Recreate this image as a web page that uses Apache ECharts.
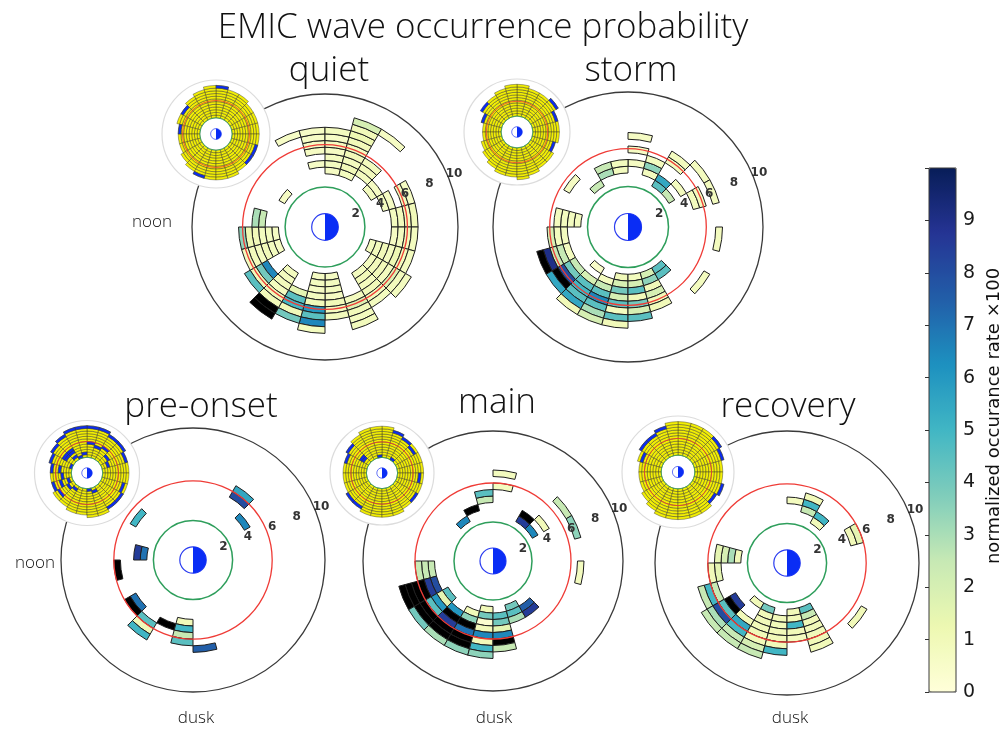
<!DOCTYPE html>
<html>
<head>
<meta charset="utf-8">
<script src="https://cdn.jsdelivr.net/npm/echarts@6.0.0/dist/echarts.min.js"></script>
<style>
html,body{margin:0;padding:0;background:#ffffff;}
#chart{width:1007px;height:730px;}
</style>
</head>
<body>
<div id="chart"></div>
<script>
// ================= DATA =================
const chartTitle = 'EMIC wave occurrence probability';
const panelNames = ['quiet', 'storm', 'pre-onset', 'main', 'recovery'];
const sideLabel = 'noon';
const bottomLabel = 'dusk';
const radialTicks = [2, 4, 6, 8, 10];
const colorbarTicks = [0, 1, 2, 3, 4, 5, 6, 7, 8, 9];
const colorbarMin = 0, colorbarMax = 10;
const colorbarTitle = 'normalized occurance rate \u00d7100';
const innerRingL = 3;                          // green ring
const plasmapauseL = [6.2, 5.8, 6.0, 6.0, 6.0];  // red ring per panel
const earthL = 1;
const binL = 0.5, binMLT = 1;
const insetInnerL = 3;

// cells: [L inner edge, MLT bin start (h), normalized occurrence rate x100]; values > 10 are saturated (black)
const quietCells = [
  [7.0,7,0.6],
  [4.5,6,0.6],[5.5,6,0.7],[6.0,6,0.7],[6.5,6,0.6],[7.0,6,0.6],
  [4.0,5,0.7],[4.5,5,0.8],[5.0,5,0.8],[5.5,5,0.7],[6.0,5,0.8],[6.5,5,0.6],[7.0,5,0.8],
  [4.0,4,0.8],[4.5,4,1.0],[5.0,4,0.8],[5.5,4,1.0],[6.0,4,0.8],[6.5,4,1.0],[7.0,4,1.2],[7.5,4,1.0],[8.0,4,2.0],
  [4.5,3,0.8],[5.0,3,0.9],[5.5,3,0.8],[8.0,3,0.7],
  [4.0,2,0.8],[4.5,2,0.7],
  [4.5,1,0.8],[5.0,1,0.7],[6.0,1,0.9],[6.5,1,0.7],
  [5.0,0,0.8],[5.5,0,0.9],[6.0,0,0.8],[6.5,0,1.0],
  [5.0,23,0.7],[5.5,23,0.8],[6.0,23,0.9],[6.5,23,0.8],
  [3.5,22,0.8],[4.0,22,0.9],[4.5,22,1.0],[5.0,22,0.8],[5.5,22,1.2],[6.0,22,0.9],[6.5,22,0.8],
  [4.0,21,0.8],[4.5,21,0.9],[5.0,21,1.0],[5.5,21,0.8],[6.0,21,1.8],[6.5,21,0.9],[7.0,21,0.8],
  [4.0,20,0.8],[4.5,20,1.0],[5.0,20,0.8],[5.5,20,1.0],[6.0,20,0.9],[6.5,20,0.8],
  [5.5,19,0.8],[6.0,19,1.8],[6.5,19,1.0],[7.0,19,0.8],[7.5,19,0.9],
  [3.5,18,0.7],[4.0,18,0.8],[4.5,18,0.8],[5.0,18,0.7],[5.5,18,1.0],[6.0,18,0.8],[6.5,18,0.9],
  [3.5,17,0.7],[4.0,17,0.8],[4.5,17,0.7],[5.0,17,0.8],[5.5,17,1.0],[6.0,17,6.0],[6.5,17,4.5],[7.0,17,6.5],[7.5,17,0.8],
  [5.0,16,1.5],[5.5,16,4.5],[6.0,16,5.0],[6.5,16,1.0],[7.0,16,4.0],
  [4.0,15,0.8],[4.5,15,0.8],[5.0,15,0.9],[5.5,15,0.8],[6.0,15,1.0],[6.5,15,1.0],[7.0,15,12],[7.5,15,12],
  [5.0,14,6.5],[5.5,14,4.0],[6.0,14,1.0],[6.5,14,4.5],
  [3.5,13,0.7],[4.0,13,0.8],[4.5,13,1.0],[5.0,13,0.8],[5.5,13,0.9],[6.0,13,0.8],
  [3.5,12,0.7],[4.0,12,0.8],[4.5,12,0.8],[5.0,12,1.0],[5.5,12,1.2],[6.0,12,3.5],
  [4.5,11,2.5],[5.0,11,3.0],
  [3.5,9,0.7]
];
const stormCells = [
  [6.5,5,0.7],[5.5,5,0.7],[4.5,5,0.7],
  [4.0,6,0.8],[4.5,6,0.8],
  [4.0,7,3.0],[4.5,7,2.5],
  [3.5,8,2.5],
  [5.0,9,0.7],
  [4.0,4,0.8],[4.5,4,3.5],[5.0,4,0.8],
  [3.5,3,4.5],[4.0,3,5.5],[5.5,3,0.8],[6.0,3,0.8],
  [3.5,2,2.5],[4.5,2,0.8],[6.5,2,0.8],
  [5.0,1,0.8],[5.5,1,0.8],[6.5,1,0.8],
  [6.5,23,0.8],
  [6.5,21,0.8],
  [3.5,11,0.8],[4.0,11,0.8],[4.5,11,0.8],[5.0,11,0.8],
  [4.5,12,0.8],[5.0,12,0.8],[5.5,12,2.0],
  [4.5,13,0.8],[5.0,13,2.5],[5.5,13,2.5],[6.0,13,9.0],[6.5,13,12],
  [4.5,14,2.5],[5.0,14,4.0],[5.5,14,8.0],[6.0,14,12],[6.5,14,5.5],
  [3.5,15,0.5],[4.5,15,2.0],[5.0,15,4.5],[5.5,15,5.0],[6.0,15,4.5],[6.5,15,5.5],[7.0,15,1.0],
  [4.0,16,0.8],[4.5,16,2.5],[5.0,16,4.5],[5.5,16,6.5],[6.0,16,4.5],[6.5,16,3.0],[7.0,16,2.0],
  [3.5,17,1.0],[4.0,17,2.0],[4.5,17,4.0],[5.0,17,2.0],[5.5,17,4.5],[6.0,17,0.8],[6.5,17,4.5],[7.0,17,1.0],
  [3.5,18,0.8],[4.0,18,2.0],[4.5,18,4.5],[5.0,18,1.0],[5.5,18,4.0],[6.0,18,2.0],[6.5,18,4.5],
  [3.5,19,2.0],[4.0,19,3.5],[4.5,19,1.0],[5.0,19,2.0],[5.5,19,1.0],[6.0,19,1.0],
  [3.5,20,4.5],[4.0,20,4.5]
];
const preOnsetCells = [
  [5.5,3,8.0],[6.0,3,5.5],
  [4.5,2,6.5],
  [5.0,9,5.0],
  [3.5,11,7.0],[4.0,11,8.5],
  [5.5,12,12],
  [5.0,14,7.0],[5.5,14,12],
  [5.5,15,4.5],[6.0,15,1.0],[6.5,15,5.0],
  [5.0,16,12],
  [4.5,17,1.0],[5.0,17,5.0],[5.5,17,2.5],[6.0,17,4.5],
  [6.5,18,7.5]
];
const mainCells = [
  [5.5,5,0.8],[6.5,5,0.8],
  [4.5,6,2.5],[5.0,6,4.5],
  [4.0,7,12],
  [3.5,8,6.5],
  [3.5,3,8.5],[4.0,3,12],
  [3.5,2,6.5],[4.5,2,1.0],[6.5,2,2.5],
  [6.5,1,3.5],
  [6.5,23,0.8],
  [4.5,12,2.5],[5.0,12,2.5],[5.5,12,2.5],
  [4.5,13,8.0],[5.0,13,8.5],[5.5,13,12],[6.0,13,12],[6.5,13,12],[7.0,13,12],
  [4.0,14,4.5],[4.5,14,1.5],[5.0,14,6.0],[5.5,14,4.5],[6.0,14,12],[6.5,14,12],[7.0,14,4.0],
  [4.5,15,6.0],[5.0,15,12],[5.5,15,8.5],[6.0,15,12],[6.5,15,12],[7.0,15,3.0],
  [4.0,16,1.0],[4.5,16,3.5],[5.0,16,12],[5.5,16,7.0],[6.0,16,12],[6.5,16,12],[7.0,16,3.5],
  [3.5,17,1.0],[4.0,17,4.0],[4.5,17,0.3],[5.0,17,1.0],[5.5,17,6.5],[6.0,17,1.0],[6.5,17,5.0],[7.0,17,3.5],
  [4.0,18,4.5],[4.5,18,4.0],[5.0,18,1.5],[5.5,18,6.5],[6.0,18,12],[6.5,18,2.5],
  [3.5,19,4.0],[4.0,19,4.5],[4.5,19,3.0],
  [4.0,20,7.5],[4.5,20,8.5]
];
const recoveryCells = [
  [4.5,5,0.8],
  [4.0,4,2.5],[4.5,4,5.0],[5.0,4,1.0],
  [3.5,3,1.0],[4.0,3,5.0],
  [5.0,1,1.0],[5.5,1,1.5],
  [6.5,21,1.0],
  [3.5,11,1.0],[4.0,11,3.0],[4.5,11,2.0],[5.0,11,1.5],
  [5.0,12,1.5],[5.5,12,1.0],
  [5.5,13,2.5],[6.0,13,5.0],[6.5,13,2.5],
  [4.5,14,8.5],[5.0,14,12],[5.5,14,4.5],[6.0,14,8.0],[6.5,14,3.0],[7.0,14,2.5],
  [3.5,15,1.0],[5.0,15,1.0],[5.5,15,5.5],[6.0,15,5.0],[6.5,15,2.5],[7.0,15,2.5],
  [3.5,16,4.0],[4.0,16,1.0],[4.5,16,1.0],[5.0,16,1.0],[5.5,16,1.0],[6.0,16,1.0],[6.5,16,2.0],[7.0,16,2.5],
  [4.0,17,1.0],[4.5,17,1.0],[5.0,17,1.0],[5.5,17,1.0],[6.0,17,1.0],[6.5,17,5.0],
  [3.5,18,1.0],[4.0,18,1.0],[4.5,18,5.0],[5.0,18,1.0],[5.5,18,0.8],
  [3.5,19,4.5],[4.0,19,2.5],[4.5,19,1.0],[5.0,19,1.0],[5.5,19,1.0],[6.0,19,1.0],[6.5,19,1.0]
];

// insets (sample coverage): outer L edge per MLT hour 0..23, and bins flagged blue [L, MLT]
const quietInsetOuter    = [8,8,8,8.5,8.5,9,9,8.5,8,7.5,7.5,7,7,7,7.5,8,8.5,8.5,8.5,8.5,8,8,8,8];
const quietInsetBlue     = [[8.5,5],[7.0,9],[6.5,11],[8.0,16],[7.5,22],[7.5,21]];
const stormInsetOuter    = [8,8,9,8.5,8.5,9,9,8.5,8,7.5,7,6.5,6.5,7,7.5,8,8.5,8.5,9,8.5,8,8,7.5,8];
const stormInsetBlue     = [[7.5,1],[8.5,2],[7.5,9],[6.5,10],[7.0,22]];
const preOnsetInsetOuter = [8,8,8.5,8.5,9,9,9,9,8.5,8,7.5,7,7,7,7.5,7.5,8,8,8.5,8.5,8,8,8,8];
const preOnsetInsetBlue  = [[8.5,4],[8.5,5],[8.5,6],[8.5,7],[8.0,8],[7.5,9],[7.0,10],[6.5,11],[8.0,2],[8.0,3],[7.5,1],
  [5.0,8],[4.5,8],[4.5,9],[5.0,9],[3.5,8],[3.0,7],[3.5,6],[5.5,5],[5.0,4],[5.5,3],[4.0,1],[4.5,2],[3.0,10],
  [5.0,11],[4.5,12],[3.5,13],[5.0,13],[6.5,13],[3.5,15],[3.0,18],[3.5,19],[7.5,20],[7.5,21],[7.0,22],[6.0,14],[4.0,14]];
const mainInsetOuter     = [8,8,8,8,8.5,9,9,9,8.5,8,7.5,7.5,7.5,7.5,8,8,8.5,8.5,8.5,8.5,8,8,8,8];
const mainInsetBlue      = [[7.0,2],[7.5,3],[8.0,4],[7.5,9],[7.0,10],[4.5,9],[4.0,9],[3.0,6],[3.0,3],[7.0,23],[7.5,21],[7.5,14],[7.5,15]];
const recoveryInsetOuter = [8,8.5,9,9,9,9,9,8.5,8,8,7.5,7,7,7,7.5,8,8.5,8.5,8.5,8.5,8.5,8,8.5,8];
const recoveryInsetBlue  = [[8.0,1],[8.5,2],[8.0,7],[7.5,8],[7.5,9],[6.5,10],[8.0,22],[7.5,21]];

// ================= LAYOUT / STYLE =================
const YlGnBu = ['#ffffd9','#edf8b1','#c7e9b4','#7fcdbb','#41b6c4','#1d91c0','#225ea8','#253494','#081d58'];
const panels = [
  {cells: quietCells,    c:[325,227], r:133, ic:[216,134], ir:54,   io: quietInsetOuter,    ib: quietInsetBlue},
  {cells: stormCells,    c:[628,227], r:135, ic:[517,132], ir:53,   io: stormInsetOuter,    ib: stormInsetBlue},
  {cells: preOnsetCells, c:[193,560], r:132, ic:[87,473],  ir:52.5, io: preOnsetInsetOuter, ib: preOnsetInsetBlue},
  {cells: mainCells,     c:[493,561], r:130, ic:[382,473], ir:52,   io: mainInsetOuter,     ib: mainInsetBlue},
  {cells: recoveryCells, c:[787,563], r:132, ic:[678,472], ir:56,   io: recoveryInsetOuter, ib: recoveryInsetBlue}
];
const titlePos = [
  [329, 71], [631, 71], [201, 407], [497, 403], [788, 407]
];
const noonPos = [[152, 222], [35, 563]];
const duskPos = [[196, 718], [494, 718], [790, 718]];
const lightFont = "'Open Sans', 'Lato', sans-serif";

function sectorShape(params, api, L0, L1, m0, m1) {
  const a = api.coord([L0, m0]);
  const b = api.coord([L1, m1]);
  return { cx: params.coordSys.cx, cy: params.coordSys.cy, r0: a[2], r: b[2],
           startAngle: -b[3], endAngle: -a[3], clockwise: true };
}
function ringSeries(polarIndex, L, color, width, z) {
  return { type:'custom', coordinateSystem:'polar', polarIndex, z, silent:true, data:[[L, 0]],
    renderItem: (params, api) => {
      const p = api.coord([api.value(0), 0]);
      return { type:'circle', shape:{cx:params.coordSys.cx, cy:params.coordSys.cy, r:p[2]},
               style:{fill:'none', stroke:color, lineWidth:width} };
    } };
}
function earthSeries(polarIndex, z, lw) {
  return { type:'custom', coordinateSystem:'polar', polarIndex, z, silent:true, data:[[earthL, 18]],
    renderItem: (params, api) => {
      const L = api.value(0), m = api.value(1);
      const p = api.coord([L, 0]);
      return { type:'group', children:[
        { type:'circle', shape:{cx:params.coordSys.cx, cy:params.coordSys.cy, r:p[2]},
          style:{fill:'#ffffff', stroke:'#2a3cf0', lineWidth:lw} },
        { type:'sector', shape: sectorShape(params, api, 0, L, m, m + 12), style:{fill:'#0a2df5'} }
      ]};
    } };
}

const polar = [], angleAxis = [], radiusAxis = [], series = [], cellSeriesIdx = [];
function addPolar(center, radius, showLine) {
  const idx = polar.length;
  polar.push({ center, radius });
  angleAxis.push({ polarIndex: idx, type:'value', min:0, max:24, startAngle:0, clockwise:false,
    axisLine:{show:showLine, lineStyle:{color:'#3a3a3a', width:1.3}},
    axisTick:{show:false}, axisLabel:{show:false}, splitLine:{show:false}, splitArea:{show:false} });
  radiusAxis.push({ polarIndex: idx, type:'value', min:0, max:10,
    axisLine:{show:false}, axisTick:{show:false}, axisLabel:{show:false}, splitLine:{show:false}, splitArea:{show:false} });
  return idx;
}

panels.forEach((p, i) => {
  const pi = addPolar(p.c, p.r, true);
  cellSeriesIdx.push(series.length);
  series.push({ type:'custom', coordinateSystem:'polar', polarIndex: pi, z:2, silent:true,
    data: p.cells, dimensions:['L','MLT','rate'], encode:{radius:0, angle:1},
    renderItem: (params, api) => ({ type:'sector',
      shape: sectorShape(params, api, api.value(0), api.value(0) + binL, api.value(1), api.value(1) + binMLT),
      style: { fill: api.visual('color'), stroke:'#1e1e1e', lineWidth:1 } }) });
  series.push(ringSeries(pi, innerRingL, '#2e9e5b', 1.5, 3));
  series.push(ringSeries(pi, plasmapauseL[i], '#ef3b36', 1.3, 3));
  series.push(earthSeries(pi, 3, 1.2));
  series.push({ type:'custom', coordinateSystem:'polar', polarIndex: pi, z:3, silent:true,
    data: radialTicks.map(v => [v, 1.5]),
    renderItem: (params, api) => {
      const q = api.coord([api.value(0) + 0.5, api.value(1)]);
      return { type:'text', x:q[0], y:q[1], style:{ text:String(api.value(0)), fill:'#333',
        font:'bold 12px "DejaVu Sans", sans-serif', align:'center', verticalAlign:'middle' } };
    } });
});

panels.forEach((p, i) => {
  const pi = addPolar(p.ic, p.ir, false);
  series.push({ type:'custom', coordinateSystem:'polar', polarIndex: pi, z:5, silent:true, data:[[10, 0]],
    renderItem: (params, api) => {
      const q = api.coord([api.value(0), 0]);
      return { type:'circle', shape:{cx:params.coordSys.cx, cy:params.coordSys.cy, r:q[2]},
               style:{fill:'#ffffff', stroke:'#dcdcdc', lineWidth:1.2} };
    } });
  const data = [];
  p.io.forEach((Lmax, m) => { for (let L = insetInnerL; L < Lmax - 1e-9; L += binL) data.push([L, m, 0]); });
  p.ib.forEach(b => data.push([b[0], b[1], 1]));
  series.push({ type:'custom', coordinateSystem:'polar', polarIndex: pi, z:6, silent:true, data,
    renderItem: (params, api) => ({ type:'sector',
      shape: sectorShape(params, api, api.value(0), api.value(0) + binL, api.value(1), api.value(1) + binMLT),
      style: { fill: api.value(2) ? '#0c2cf2' : '#f2ee05', stroke:'#3a3a2a', lineWidth:0.45 } }) });
  series.push(ringSeries(pi, innerRingL, '#2e9e5b', 0.8, 7));
  series.push(ringSeries(pi, plasmapauseL[i], '#ef3b36', 0.8, 7));
  series.push(earthSeries(pi, 7, 0.7));
});

const graphic = [];
function txt(x, y, text, font, extra) {
  graphic.push(Object.assign({ type:'text', x, y, silent:true, z:20,
    style:{ text, font, fill:'#111', align:'center', verticalAlign:'middle', textAlign:'center', textVerticalAlign:'middle' } }, extra || {}));
}
txt(483, 28, chartTitle, `300 35px ${lightFont}`);
panelNames.forEach((n, i) => txt(titlePos[i][0], titlePos[i][1], n, `300 35px ${lightFont}`));
noonPos.forEach(p => txt(p[0], p[1], sideLabel, `300 17px ${lightFont}`));
duskPos.forEach(p => txt(p[0], p[1], bottomLabel, `300 17px ${lightFont}`));
txt(994, 416, colorbarTitle, `18px "DejaVu Sans", sans-serif`, { rotation: Math.PI / 2 });

const option = {
  backgroundColor:'#ffffff',
  animation:false,
  polar, angleAxis, radiusAxis, series, graphic,
  grid:{ left:929, top:168, width:27, height:524, show:true, z:10, backgroundColor:'transparent', borderColor:'#3a3a3a', borderWidth:1 },
  xAxis:{ type:'value', show:false },
  yAxis:{ type:'value', position:'right', min:colorbarMin, max:colorbarMax, interval:1, z:10,
    axisLine:{show:false}, splitLine:{show:false},
    axisTick:{ show:true, inside:true, length:4, lineStyle:{color:'#333'} },
    axisLabel:{ margin:7, fontSize:19, color:'#1a1a1a', fontFamily:'"DejaVu Sans", sans-serif',
      formatter: v => colorbarTicks.indexOf(v) >= 0 ? String(v) : '' } },
  visualMap:{ type:'continuous', min:colorbarMin, max:colorbarMax, range:[colorbarMin, colorbarMax - 0.001],
    dimension:2, seriesIndex: cellSeriesIdx, calculable:false, orient:'vertical',
    left:929, top:168, itemWidth:27, itemHeight:524, padding:0, text:null,
    inRange:{ color: YlGnBu }, outOfRange:{ color:'#000000' } }
};
const chart = echarts.init(document.getElementById('chart'));
chart.setOption(option);
</script>
</body>
</html>
